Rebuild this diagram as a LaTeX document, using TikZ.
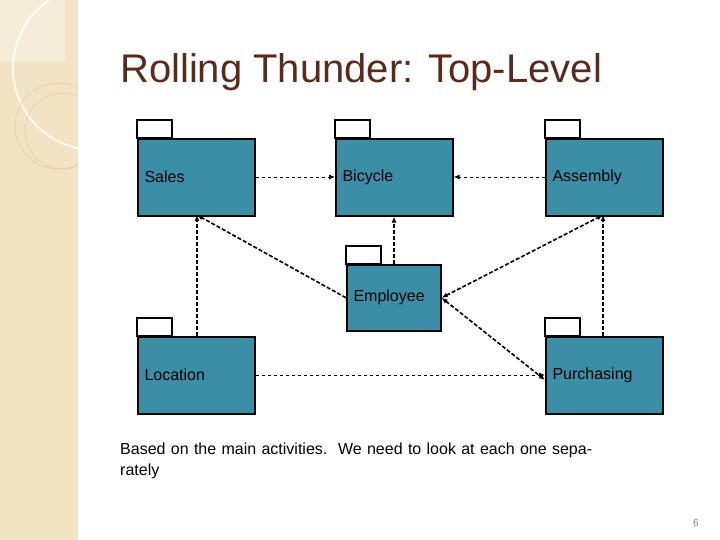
\documentclass[tikz,border=0pt]{standalone}
\usepackage{fontspec}
\setmainfont{Liberation Sans}
\usetikzlibrary{arrows.meta}
\definecolor{pk}{HTML}{3A8EA5}
\definecolor{beige}{HTML}{F1E3C3}
\definecolor{ttl}{HTML}{5A2A1A}
\begin{document}
\begin{tikzpicture}[x=1pt,y=-1pt,
  pkg/.style={draw=black,line width=1.6pt,fill=pk,minimum width=117pt,minimum height=77pt,anchor=north west,inner sep=0pt},
  lbl/.style={font=\fontsize{16}{18}\selectfont,anchor=west},
  dep/.style={dashed,line width=0.9pt,-{Latex[length=6pt,width=5pt]}},
  depb/.style={dash pattern=on 4pt off 2pt,line width=1.6pt,-{Latex[length=6pt,width=5pt]}},
  tabs/.style={draw=black,line width=1.6pt,fill=white}]
\useasboundingbox (0,0) rectangle (720,540);
\fill[beige] (0,0) rectangle (78,540);
\begin{scope}
\clip (0,0) rectangle (78,540);
\fill[white,opacity=0.35] (0,0) rectangle (65,62);
\draw[white,line width=2pt,opacity=0.8] (95,68) circle (82);
\draw[brown!40,line width=0.6pt] (58,126) circle (43);
\draw[brown!40,line width=0.6pt] (63,131) circle (38);
\end{scope}
\node[anchor=base west,text=ttl,font=\fontsize{40}{44}\selectfont,inner sep=0pt] (title) at (120,83) {Rolling Thunder: Top-Level};
% tabs
\foreach \x/\y/\w in {137/120/35,335/120/35,545/120/35,346/246/35,137/318/35,545/318/35}
  \draw[tabs] (\x,\y) rectangle ++(\w,18);
\node[pkg] (sales) at (137,138) {};
\node[pkg] (bike) at (335,138) {};
\node[pkg] (asm) at (545,138) {};
\node[pkg,minimum width=94pt,minimum height=66pt] (emp) at (346,264) {};
\node[pkg] (loc) at (137,336) {};
\node[pkg] (pur) at (545,336) {};
\node[lbl] (t1) at (141,177) {Sales};
\node[lbl] (t2) at (339,177) {Bicycle};
\node[lbl] (t3) at (549,177) {Assembly};
\node[lbl] (t4) at (350,297) {Employee};
\node[lbl] (t5) at (141,375) {Location};
\node[lbl] (t6) at (549,375) {Purchasing};
\coordinate (sb) at (197,215);
\coordinate (ab) at (603,215);
\draw[dep] (sales.east |- 0,177) -- (bike.west |- 0,177);
\draw[dep] (asm.west |- 0,177) -- (bike.east |- 0,177);
\draw[dep] (loc.east |- 0,375) -- (pur.west |- 0,375);
\draw[depb] (emp.north -| 394,0) -- (bike.south -| 394,0);
\draw[depb] (emp.west) -- (sb);
\draw[depb,{Latex[length=6pt,width=5pt]}-{Latex[length=6pt,width=5pt]}] (emp.east) -- (ab);
\draw[depb,{Latex[length=6pt,width=5pt]}-{Latex[length=6pt,width=5pt]}] (emp.east) -- (pur.west |- 0,380);
\draw[depb] (loc.north -| 197,0) -- (sb);
\draw[depb] (pur.north -| 603,0) -- (ab);
\node[anchor=north west,align=left,text width=480pt,font=\fontsize{16}{21}\selectfont,inner sep=0pt] (note) at (120,443) {Based on the main activities.\ \ We need to look at each one separately};
\node[text=gray,font=\fontsize{10}{11}\selectfont] (pg) at (696,523) {6};
\end{tikzpicture}
\end{document}
